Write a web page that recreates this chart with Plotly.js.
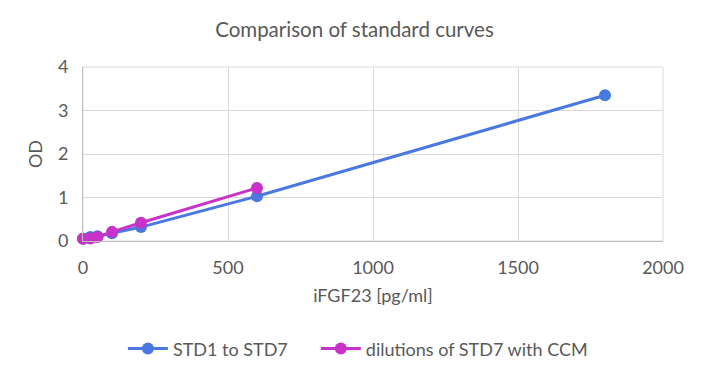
<!DOCTYPE html>
<html><head><meta charset="utf-8">
<script src="https://cdn.plot.ly/plotly-3.0.1.min.js"></script>
<style>html,body{margin:0;padding:0;background:#fff}#c{width:709px;height:379px}</style>
</head><body><div id="c"></div>
<script>
const stdX = [0, 25, 50, 100, 200, 600, 1800];
const stdY = [0.05, 0.09, 0.11, 0.18, 0.32, 1.03, 3.35];
const dilX = [0, 25, 50, 100, 200, 600];
const dilY = [0.05, 0.06, 0.09, 0.21, 0.42, 1.22];
const xTicks = [0, 500, 1000, 1500, 2000];
const yTicks = [0, 1, 2, 3, 4];

const font = {family: 'Lato, "Open Sans", sans-serif', color: '#595959'};
const traces = [
  {x: stdX, y: stdY, name: 'STD1 to STD7\u00a0\u00a0\u00a0\u00a0\u00a0', mode: 'lines+markers', type: 'scatter',
   line: {color: '#4878E0', width: 3}, marker: {color: '#4878E0', size: 12}, cliponaxis: false},
  {x: dilX, y: dilY, name: 'dilutions of STD7 with CCM', mode: 'lines+markers', type: 'scatter',
   line: {color: '#C832C8', width: 3}, marker: {color: '#C832C8', size: 12}, cliponaxis: false}
];
const layout = {
  width: 709, height: 379,
  margin: {l: 83, r: 46, t: 67, b: 138},
  paper_bgcolor: '#fff', plot_bgcolor: '#fff',
  font: Object.assign({size: 18}, font),
  title: {text: 'Comparison of standard curves', x: 0.5, xanchor: 'center', y: 0.92, yanchor: 'middle',
          font: Object.assign({}, font, {size: 20.5})},
  xaxis: {range: [0, 2000], tickvals: xTicks, ticktext: xTicks.map(String), showgrid: true, gridcolor: '#d9d9d9',
          zeroline: false, showline: true, linecolor: '#bfbfbf', linewidth: 1, ticks: '',
          tickfont: Object.assign({}, font, {size: 18}), ticklabelstandoff: 10,
          title: {text: 'iFGF23 [pg/ml]', font: Object.assign({}, font, {size: 18}), standoff: 12}},
  yaxis: {range: [0, 4], tickvals: yTicks, ticktext: yTicks.map(String), showgrid: true, gridcolor: '#d9d9d9',
          zeroline: false, showline: true, linecolor: '#bfbfbf', linewidth: 1, ticks: '',
          tickfont: Object.assign({}, font, {size: 18}), ticklabelstandoff: 10,
          title: {text: 'OD', font: Object.assign({}, font, {size: 18}), standoff: 10}},
  shapes: [{type: 'rect', xref: 'paper', yref: 'paper', x0: 0, x1: 1, y0: 0, y1: 1,
            line: {color: '#d9d9d9', width: 1}, layer: 'below'}],
  showlegend: true,
  legend: {orientation: 'h', x: 0.474, xanchor: 'center', y: -0.62, yanchor: 'middle',
           font: Object.assign({}, font, {size: 18}), itemwidth: 40, tracegroupgap: 0}
};
Plotly.newPlot('c', traces, layout, {displayModeBar: false, staticPlot: true});
</script></body></html>
